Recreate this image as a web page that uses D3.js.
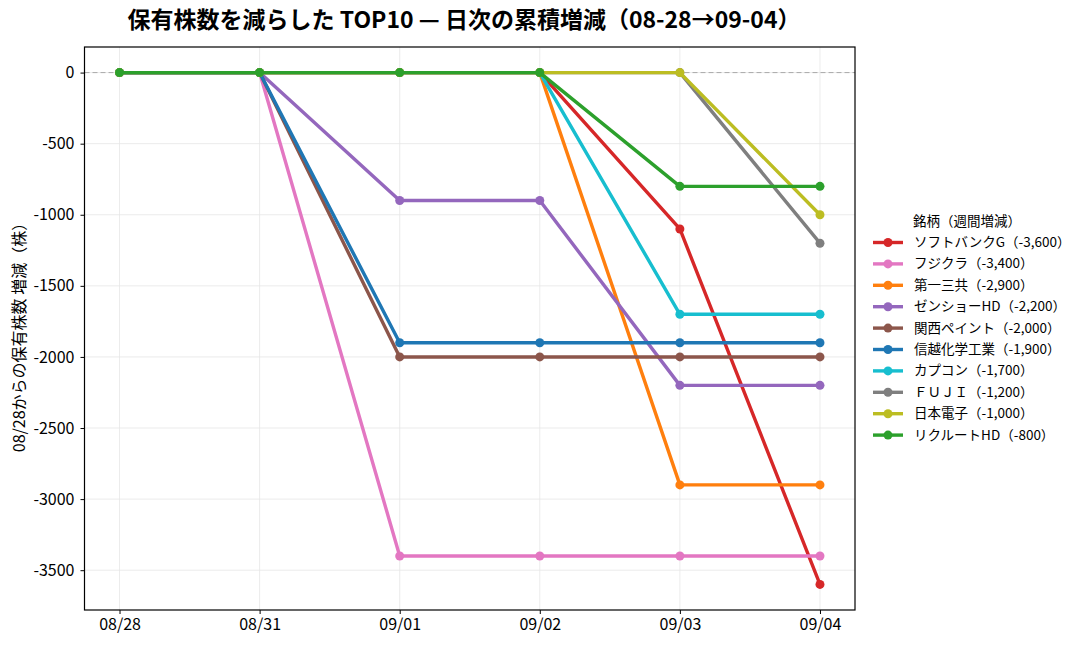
<!DOCTYPE html>
<html>
<head>
<meta charset="utf-8">
<script src="https://cdn.jsdelivr.net/npm/d3@7"></script>
<style>
  body { margin: 0; background: #fff; }
  text { font-family: "Noto Sans CJK JP", "Noto Sans", sans-serif; }
</style>
</head>
<body>
<div id="chart"></div>
<script>
// data
const dates = ["08/28", "08/31", "09/01", "09/02", "09/03", "09/04"]
const names = ["ソフトバンクG", "フジクラ", "第一三共", "ゼンショーHD", "関西ペイント",
  "信越化学工業", "カプコン", "ＦＵＪＩ", "日本電子", "リクルートHD"]
const totals = ["-3,600", "-3,400", "-2,900", "-2,200", "-2,000", "-1,900", "-1,700", "-1,200", "-1,000", "-800"]
const softbank = [0, 0, 0, 0, -1100, -3600]
const fujikura = [0, 0, -3400, -3400, -3400, -3400]
const daiichi = [0, 0, 0, 0, -2900, -2900]
const zensho = [0, 0, -900, -900, -2200, -2200]
const kansai = [0, 0, -2000, -2000, -2000, -2000]
const shinetsu = [0, 0, -1900, -1900, -1900, -1900]
const capcom = [0, 0, 0, 0, -1700, -1700]
const fuji = [0, 0, 0, 0, 0, -1200]
const jeol = [0, 0, 0, 0, 0, -1000]
const recruit = [0, 0, 0, 0, -800, -800]
const yTicks = [0, -500, -1000, -1500, -2000, -2500, -3000, -3500]

const seriesValues = [softbank, fujikura, daiichi, zensho, kansai, shinetsu, capcom, fuji, jeol, recruit]
const colors = ["#d62728", "#e377c2", "#ff7f0e", "#9467bd", "#8c564b",
  "#1f77b4", "#17becf", "#7f7f7f", "#bcbd22", "#2ca02c"]

const width = 1088, height = 649
const margin = {left: 84.5, right: 233, top: 47, bottom: 39}

const svg = d3.select("#chart").append("svg")
  .attr("width", width).attr("height", height)

const x = d3.scalePoint().domain(dates)
  .range([margin.left, width - margin.right]).padding(0.25)
const y = d3.scaleLinear().domain([-3780, 180])
  .range([height - margin.bottom, margin.top])

// grid
svg.append("g").selectAll("line").data(dates).enter().append("line")
  .attr("x1", d => x(d)).attr("x2", d => x(d))
  .attr("y1", margin.top).attr("y2", height - margin.bottom)
  .attr("stroke", "#e6e6e6").attr("stroke-width", 0.8)
svg.append("g").selectAll("line").data(yTicks).enter().append("line")
  .attr("x1", margin.left).attr("x2", width - margin.right)
  .attr("y1", d => y(d)).attr("y2", d => y(d))
  .attr("stroke", "#e6e6e6").attr("stroke-width", 0.8)

// zero line
svg.append("line")
  .attr("x1", margin.left).attr("x2", width - margin.right)
  .attr("y1", y(0)).attr("y2", y(0))
  .attr("stroke", "#aaa").attr("stroke-width", 1)
  .attr("stroke-dasharray", "5,3")

// lines
const line = d3.line().x((d, i) => x(dates[i])).y(d => y(d))
seriesValues.forEach((vals, k) => {
  const g = svg.append("g")
  g.append("path").datum(vals)
    .attr("d", line).attr("fill", "none")
    .attr("stroke", colors[k]).attr("stroke-width", 3.4)
    .attr("stroke-linejoin", "round")
  g.selectAll("circle").data(vals).enter().append("circle")
    .attr("cx", (d, i) => x(dates[i])).attr("cy", d => y(d))
    .attr("r", 4.5).attr("fill", colors[k])
})

// axes
const xAxis = svg.append("g")
  .attr("transform", `translate(0,${height - margin.bottom})`)
  .call(d3.axisBottom(x).tickSize(4).tickPadding(5))
const yAxis = svg.append("g")
  .attr("transform", `translate(${margin.left},0)`)
  .call(d3.axisLeft(y).tickValues(yTicks).tickFormat(d => d).tickSize(4).tickPadding(6))
;[xAxis, yAxis].forEach(a => {
  a.select(".domain").remove()
  a.selectAll("text").attr("font-size", 16).attr("fill", "#000")
    .style("font-family", '"Noto Sans CJK JP", sans-serif')
  a.selectAll("line").attr("stroke", "#000")
})

// frame
svg.append("rect")
  .attr("x", margin.left).attr("y", margin.top)
  .attr("width", width - margin.right - margin.left)
  .attr("height", height - margin.bottom - margin.top)
  .attr("fill", "none").attr("stroke", "#000").attr("stroke-width", 1.2)

// title
svg.append("text")
  .attr("x", 464).attr("y", 28)
  .attr("text-anchor", "middle").attr("font-size", 23).attr("font-weight", "bold")
  .text("保有株数を減らした TOP10 — 日次の累積増減（08-28→09-04）")

// y label
svg.append("text")
  .attr("transform", `translate(25,${(margin.top + height - margin.bottom) / 2 + 5}) rotate(-90)`)
  .attr("text-anchor", "middle").attr("font-size", 16)
  .text("08/28からの保有株数 増減（株）")

// legend
const lg = svg.append("g").attr("transform", "translate(873,220)")
lg.append("text").attr("x", 40).attr("y", 6).attr("font-size", 13.5).text("銘柄（週間増減）")
names.forEach((n, k) => {
  const row = lg.append("g").attr("transform", `translate(0,${22.5 + k * 21.4})`)
  row.append("line").attr("x1", 0).attr("x2", 30).attr("y1", 0).attr("y2", 0)
    .attr("stroke", colors[k]).attr("stroke-width", 3.4)
  row.append("circle").attr("cx", 15).attr("cy", 0).attr("r", 4.5).attr("fill", colors[k])
  row.append("text").attr("x", 41).attr("y", 4.5).attr("font-size", 13.5)
    .text(`${n}（${totals[k]}）`)
})
</script>
</body>
</html>
